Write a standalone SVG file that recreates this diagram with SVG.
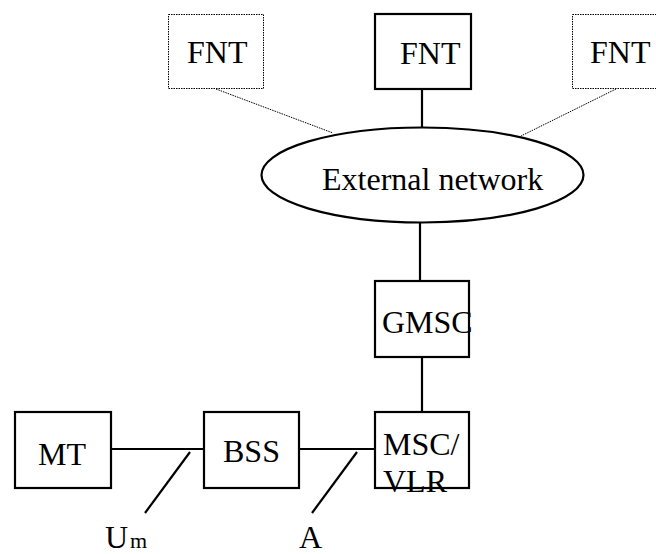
<svg xmlns="http://www.w3.org/2000/svg" width="656" height="554" viewBox="0 0 656 554">
<style>
text{font-family:"Liberation Serif","Times New Roman",serif;font-size:32px;fill:#000}
.box{fill:#fff;stroke:#000;stroke-width:2.2}
.dot{fill:#fff;stroke:#000;stroke-width:1;stroke-dasharray:1.5 1}
.ln{stroke:#000;stroke-width:2.2;fill:none}
.dl{stroke:#000;stroke-width:1;stroke-dasharray:1.5 1;fill:none}
</style>
<rect width="656" height="554" fill="#fff"/>
<g id="connectors">
<line class="dl" x1="216" y1="89" x2="333" y2="133"/>
<line class="dl" x1="616" y1="89" x2="521" y2="136"/>
<line class="ln" x1="422" y1="89" x2="422" y2="128"/>
<line class="ln" x1="420" y1="222" x2="420" y2="281"/>
<line class="ln" x1="422" y1="357" x2="422" y2="412"/>
<line class="ln" x1="111" y1="449" x2="204" y2="449"/>
<line class="ln" x1="299" y1="449" x2="375" y2="449"/>
<line class="ln" x1="190" y1="452" x2="145" y2="513"/>
<line class="ln" x1="357" y1="452" x2="312" y2="513"/>
</g>
<g id="fnt1"><rect class="dot" x="168.5" y="14.5" width="95" height="74"/><text x="187" y="63">FNT</text></g>
<g id="fnt2"><rect class="box" x="375" y="14" width="96" height="75" stroke-width="3"/><text x="400" y="64">FNT</text></g>
<g id="fnt3"><rect class="dot" x="572.5" y="14.5" width="95" height="74"/><text x="590" y="63">FNT</text></g>
<g id="extnet"><ellipse class="box" cx="422.5" cy="175" rx="161" ry="47.5"/><text x="322" y="190">External network</text></g>
<g id="gmsc"><rect class="box" x="375" y="281" width="94" height="76"/><text x="382" y="333">GMSC</text></g>
<g id="msc"><rect class="box" x="375" y="412" width="94" height="76"/><text x="383" y="455">MSC/</text><text x="383" y="492">VLR</text></g>
<g id="mt"><rect class="box" x="15" y="412" width="96" height="76"/><text x="38" y="465">MT</text></g>
<g id="bss"><rect class="box" x="204" y="412" width="95" height="76"/><text x="223" y="462">BSS</text></g>
<g id="labels"><text x="105" y="548">U<tspan dx="2" font-size="22">m</tspan></text><text x="299" y="548">A</text></g>
</svg>
